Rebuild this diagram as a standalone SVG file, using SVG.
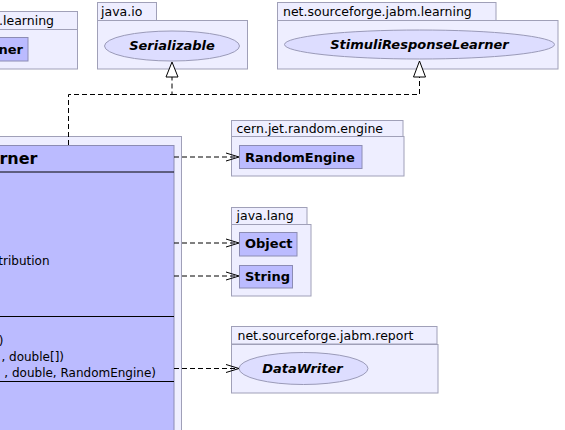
<svg xmlns="http://www.w3.org/2000/svg" width="565" height="430" viewBox="0 0 565 430">
<style>
.pkg{fill:#eeeeff;stroke:#a0a0b8;stroke-width:1}
.cls{fill:#bbbbff;stroke:#8c8cb4;stroke-width:1}
.iface{fill:#ddddff;stroke:#9a9ab8;stroke-width:1}
.sep{stroke:#000;stroke-width:1}
.plabel{font-family:"DejaVu Sans",sans-serif;font-size:12.5px;fill:#000}
.cname{font-family:"DejaVu Sans",sans-serif;font-size:13px;font-weight:bold;fill:#000}
.iname{font-family:"DejaVu Sans",sans-serif;font-size:13px;font-weight:bold;font-style:italic;fill:#000}
.big{font-family:"DejaVu Sans",sans-serif;font-size:16px;font-weight:bold;fill:#000}
.mem{font-family:"DejaVu Sans",sans-serif;font-size:12px;fill:#000}
.dep{fill:none;stroke:#000;stroke-width:1;stroke-dasharray:5,3}
.head{fill:none;stroke:#000;stroke-width:1}
.tri{fill:#fff;stroke:#000;stroke-width:1}
</style>
<g id="pkg-learning-left">
<rect class="pkg" x="-5" y="11.5" width="82.5" height="18"/>
<rect class="pkg" x="-5" y="29.5" width="82.5" height="39.5"/>
<text class="plabel" x="54" y="25" text-anchor="end">.learning</text>
<g id="node-learner-left">
<rect class="cls" x="-5" y="37.5" width="33" height="23.5"/>
<text class="cname" x="23" y="54" text-anchor="end">ner</text>
</g>
</g>
<g id="pkg-java-io">
<rect class="pkg" x="97.5" y="2.5" width="59" height="18"/>
<rect class="pkg" x="97.5" y="20.5" width="150" height="48.5"/>
<text class="plabel" x="101" y="16">java.io</text>
<g id="node-serializable">
<ellipse class="iface" cx="172" cy="46" rx="67.5" ry="15"/>
<text class="iname" x="172" y="50" text-anchor="middle">Serializable</text>
</g>
</g>
<g id="pkg-jabm-learning">
<rect class="pkg" x="277.5" y="2.5" width="218.5" height="18"/>
<rect class="pkg" x="277.5" y="20.5" width="280.5" height="48.5"/>
<text class="plabel" x="283" y="16">net.sourceforge.jabm.learning</text>
<g id="node-stimuli">
<ellipse class="iface" cx="419.5" cy="44.5" rx="135" ry="14.5"/>
<text class="iname" x="419.5" y="49" text-anchor="middle">StimuliResponseLearner</text>
</g>
</g>
<g id="pkg-main">
<rect class="pkg" x="-5" y="136.5" width="186.5" height="300"/>
<g id="node-main-class">
<rect class="cls" x="-5" y="145.5" width="179" height="290"/>
<line class="sep" x1="-5" y1="172" x2="174" y2="172"/>
<line class="sep" x1="-5" y1="316.5" x2="174" y2="316.5"/>
<line class="sep" x1="-5" y1="381.5" x2="174" y2="381.5"/>
<text class="big" x="37.5" y="164" text-anchor="end">rner</text>
<text class="mem" x="49.5" y="265" text-anchor="end">tribution</text>
<text class="mem" x="3.5" y="345" text-anchor="end">)</text>
<text class="mem" x="64" y="361" text-anchor="end">, double[])</text>
<text class="mem" x="156" y="377" text-anchor="end">, double, RandomEngine)</text>
</g>
</g>
<g id="pkg-cern">
<rect class="pkg" x="231.5" y="120.5" width="171.5" height="16"/>
<rect class="pkg" x="231.5" y="136.5" width="172.5" height="39.5"/>
<text class="plabel" x="236.5" y="133">cern.jet.random.engine</text>
<g id="node-randomengine">
<rect class="cls" x="239.5" y="145.5" width="122.5" height="23"/>
<text class="cname" x="245" y="161.5">RandomEngine</text>
</g>
</g>
<g id="pkg-java-lang">
<rect class="pkg" x="231.5" y="207.5" width="75.5" height="17"/>
<rect class="pkg" x="231.5" y="224.5" width="79.5" height="71.5"/>
<text class="plabel" x="236.5" y="220">java.lang</text>
<g id="node-object">
<rect class="cls" x="239.5" y="232.5" width="57.5" height="23.5"/>
<text class="cname" x="245" y="248">Object</text>
</g>
<g id="node-string">
<rect class="cls" x="239.5" y="265.5" width="53" height="22.5"/>
<text class="cname" x="245" y="280.5">String</text>
</g>
</g>
<g id="pkg-jabm-report">
<rect class="pkg" x="231.5" y="326.5" width="205.5" height="17.5"/>
<rect class="pkg" x="231.5" y="344.5" width="206.5" height="48.5"/>
<text class="plabel" x="237.5" y="340">net.sourceforge.jabm.report</text>
<g id="node-datawriter">
<ellipse class="iface" cx="303.5" cy="368.5" rx="64.5" ry="16"/>
<text class="iname" x="302.5" y="373" text-anchor="middle">DataWriter</text>
</g>
</g>
<g id="connectors">
<path class="dep" d="M68.5,145 V94.5 H172 V77"/>
<path class="dep" d="M172,94.5 H419.5 V77"/>
<path class="tri" d="M172,62 L178,77 L166,77 Z"/>
<path class="tri" d="M419.5,61 L425.5,77 L413.5,77 Z"/>
<path class="dep" d="M174,157 H238"/>
<path class="head" d="M226,153 L239,157 L226,161"/>
<path class="dep" d="M174,243 H238"/>
<path class="head" d="M226,239 L239,243 L226,247"/>
<path class="dep" d="M174,276 H238"/>
<path class="head" d="M226,272 L239,276 L226,280"/>
<path class="dep" d="M174,368.5 H238"/>
<path class="head" d="M226,364.5 L239,368.5 L226,372.5"/>
</g>
</svg>
